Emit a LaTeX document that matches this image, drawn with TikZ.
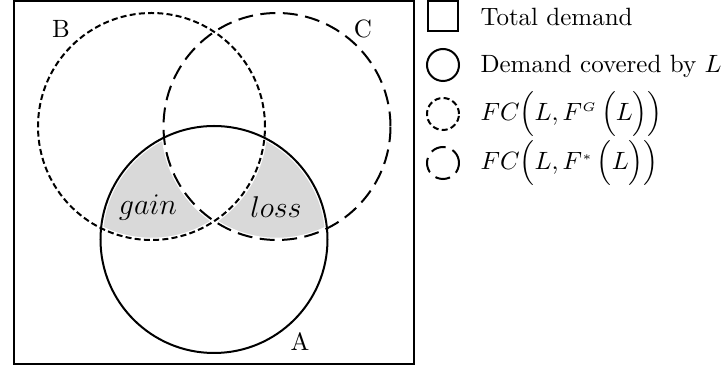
\documentclass[tikz,border=0pt]{standalone}
\usepackage{amsmath}
\begin{document}
\begin{tikzpicture}[x=0.4pt,y=-0.4pt,
  frame/.style={draw=black,line width=0.8pt},
  solidc/.style={draw=black,line width=0.8pt},
  finedash/.style={draw=black,line width=0.8pt,dash pattern=on 2.4pt off 1.3pt},
  longdash/.style={draw=black,line width=0.8pt,dash pattern=on 6pt off 3pt},
  whiteedge/.style={draw=white,line width=1.8pt},
  region/.style={fill=black!15},
  lbl/.style={inner sep=0pt,font=\normalsize},
  legtxt/.style={inner sep=0pt,anchor=west,font=\normalsize}]
\useasboundingbox (0,0) rectangle (728,372);
\def\R{45.4pt}
\coordinate (cA) at (214,239.5);
\coordinate (cB) at (151.5,126.5);
\coordinate (cC) at (277,126.5);
% frame
\draw[frame] (14,1.5) rectangle (414,364.5);
% gain region: A and B, not C
\begin{scope}
  \clip (cA) circle[radius=\R];
  \clip (cB) circle[radius=\R];
  \fill[region,even odd rule] (0,0) rectangle (728,372) (cC) circle[radius=\R];
\end{scope}
% loss region: A and C, not B
\begin{scope}
  \clip (cA) circle[radius=\R];
  \clip (cC) circle[radius=\R];
  \fill[region,even odd rule] (0,0) rectangle (728,372) (cB) circle[radius=\R];
\end{scope}
% white edges
\draw[whiteedge] (cA) circle[radius=\R];
\draw[whiteedge] (cB) circle[radius=\R];
\draw[whiteedge] (cC) circle[radius=\R];
% circles
\draw[solidc] (cA) circle[radius=\R];
\draw[finedash] (cB) circle[radius=\R];
\draw[longdash] (cC) circle[radius=\R];
% labels
\node[lbl] (labB) at (61,29) {B};
\node[lbl] (labC) at (363,29) {C};
\node[lbl] (labA) at (300,342) {A};
\node[lbl,font=\large] (gain) at (148,207.5) {$gain$};
\node[lbl,font=\large] (loss) at (276,207) {$loss$};
% legend
\draw[frame] (427.5,1) rectangle (457.5,31);
\draw[solidc] (443,65) circle[radius=6.4pt];
\draw[finedash] (443,114) circle[radius=6.4pt];
\draw[longdash] (443,163) circle[radius=6.4pt];
\node[legtxt] (l1) at (480,17) {Total demand};
\node[legtxt] (l2) at (480,66) {Demand covered by $L$};
\node[legtxt] (l3) at (480,114) {$FC\Bigl(L,F^{\scriptscriptstyle G}\,\Bigl(L\Bigr)\Bigr)$};
\node[legtxt] (l4) at (480,163) {$FC\Bigl(L,F^{\scriptscriptstyle *}\,\Bigl(L\Bigr)\Bigr)$};
\end{tikzpicture}
\end{document}
